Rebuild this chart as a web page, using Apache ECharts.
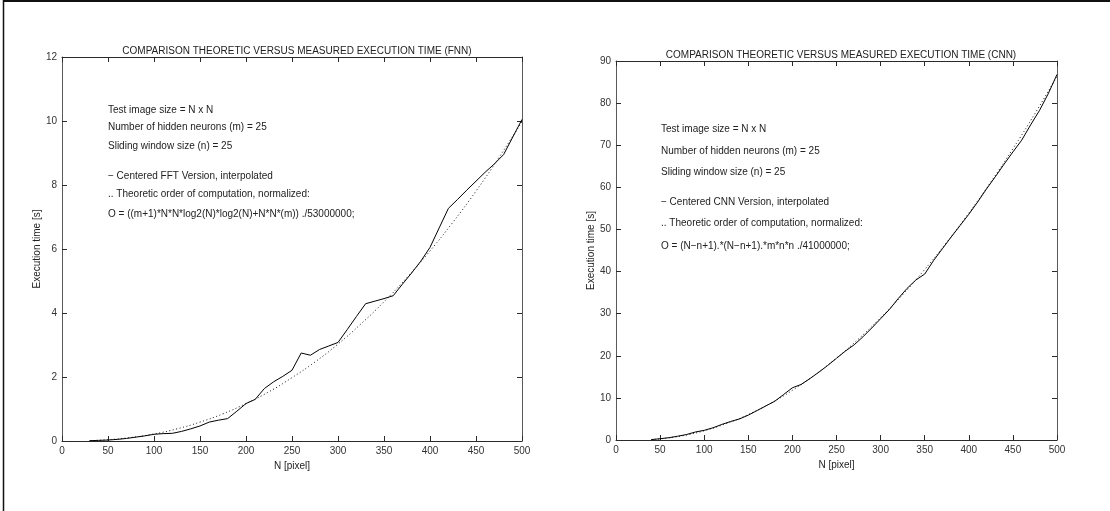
<!DOCTYPE html>
<html>
<head>
<meta charset="utf-8">
<title>Execution time comparison</title>
<script src="https://cdn.jsdelivr.net/npm/echarts@6/dist/echarts.min.js"></script>
<style>
  html, body { margin: 0; padding: 0; background: #fff; }
  #chart { width: 1110px; height: 511px; }
</style>
</head>
<body>
<div id="chart"></div>
<script>
// Tick layout of both panels
const xTicks = [0, 50, 100, 150, 200, 250, 300, 350, 400, 450, 500];
const fnnYTicks = [0, 2, 4, 6, 8, 10, 12];
const cnnYTicks = [0, 10, 20, 30, 40, 50, 60, 70, 80, 90];

// FNN: measured execution time (FFT version, interpolated)
const fnnN = [30, 40, 50, 60, 70, 80, 90, 100, 110, 120, 130, 140, 150, 160, 170, 180, 190, 200,
  210, 220, 230, 240, 250, 260, 270, 280, 290, 300, 310, 320, 330, 340, 350, 360, 370, 380, 390,
  400, 410, 420, 430, 440, 450, 460, 470, 480, 490, 500];
const fnnMeasured = [0.01, 0.02, 0.03, 0.05, 0.08, 0.12, 0.16, 0.21, 0.23, 0.24, 0.30, 0.38, 0.47,
  0.59, 0.65, 0.70, 0.93, 1.17, 1.30, 1.64, 1.85, 2.02, 2.21, 2.75, 2.68, 2.86, 2.97, 3.08, 3.48,
  3.89, 4.29, 4.37, 4.45, 4.54, 4.90, 5.25, 5.62, 6.05, 6.66, 7.27, 7.55, 7.84, 8.12, 8.40, 8.66,
  8.95, 9.50, 10.05];

// FNN: theoretic order of computation, normalized
const fnnTheoryN = [30, 50, 75, 100, 125, 150, 175, 200, 225, 250, 275, 300, 325, 350, 375, 400,
  425, 450, 475, 500];
const fnnTheory = [0.01, 0.04, 0.11, 0.22, 0.38, 0.59, 0.85, 1.17, 1.54, 1.98, 2.47, 3.03, 3.66,
  4.35, 5.11, 5.94, 6.84, 7.81, 8.86, 9.98];

// CNN: measured execution time (CNN version, interpolated)
const cnnN = [40, 50, 60, 70, 80, 90, 100, 110, 120, 130, 140, 150, 160, 170, 180, 190, 200, 210,
  220, 230, 240, 250, 260, 270, 280, 290, 300, 310, 320, 330, 340, 350, 360, 370, 380, 390, 400,
  410, 420, 430, 440, 450, 460, 470, 480, 490, 500];
const cnnMeasured = [0.1, 0.3, 0.55, 0.9, 1.3, 1.9, 2.3, 2.9, 3.7, 4.4, 5.0, 5.9, 7.0, 8.1, 9.2,
  10.8, 12.4, 13.2, 14.6, 16.1, 17.7, 19.4, 21.1, 22.6, 24.5, 26.6, 28.8, 31.0, 33.6, 36.0, 38.0,
  39.4, 42.6, 45.4, 48.2, 50.9, 53.6, 56.5, 59.6, 62.5, 65.5, 68.4, 71.2, 74.8, 78.2, 82.2, 86.8];

// CNN: theoretic order of computation, normalized
const cnnTheoryN = [40, 50, 75, 100, 125, 150, 175, 200, 225, 250, 275, 300, 325, 350, 375, 400,
  425, 450, 475, 500];
const cnnTheory = [0.1, 0.26, 0.99, 2.2, 3.89, 6.05, 8.69, 11.8, 15.4, 19.47, 24.0, 29.03, 34.5,
  40.5, 46.95, 53.88, 61.28, 69.16, 77.52, 86.35];

// Panel texts
const fnnTitle = 'COMPARISON THEORETIC VERSUS MEASURED EXECUTION TIME (FNN)';
const cnnTitle = 'COMPARISON THEORETIC VERSUS MEASURED EXECUTION TIME (CNN)';
const fnnNotes = [
  'Test image size = N x N',
  'Number of hidden neurons (m) = 25',
  'Sliding window size (n) = 25',
  '\u2212 Centered FFT Version, interpolated',
  '.. Theoretic order of computation, normalized:',
  'O = ((m+1)*N*N*log2(N)*log2(N)+N*N*(m)) ./53000000;'
];
const cnnNotes = [
  'Test image size = N x N',
  'Number of hidden neurons (m) = 25',
  'Sliding window size (n) = 25',
  '\u2212 Centered CNN Version, interpolated',
  '.. Theoretic order of computation, normalized:',
  'O = (N\u2212n+1).*(N\u2212n+1).*m*n*n ./41000000;'
];

const FONT = '"Liberation Sans", Arial, Helvetica, sans-serif';
const INK = '#222';
const AXIS_H = '#2a2a2a';   // horizontal box edges
const AXIS_V = '#5a5a5a';   // vertical box edges

const pairs = (xs, ys) => xs.map((x, i) => [x, ys[i]]);

function axisPair(kind, gridIndex, ticks, name, nameGap) {
  const min = ticks[0], max = ticks[ticks.length - 1], interval = ticks[1] - ticks[0];
  const color = kind === 'x' ? AXIS_H : AXIS_V;
  const common = {
    type: 'value', gridIndex, min, max, interval,
    splitLine: { show: false },
    axisLine: { show: true, onZero: false, lineStyle: { color, width: 1 } },
    axisTick: { show: true, inside: true, length: 5, lineStyle: { color: AXIS_H, width: 1 } }
  };
  const main = Object.assign({}, common, {
    position: kind === 'x' ? 'bottom' : 'left',
    name, nameLocation: 'middle', nameGap,
    nameTextStyle: { fontFamily: FONT, fontSize: 10, color: INK },
    axisLabel: { show: true, fontFamily: FONT, fontSize: 10, color: '#333', margin: 5 }
  });
  const mirror = Object.assign({}, common, {
    position: kind === 'x' ? 'top' : 'right',
    axisLabel: { show: false }
  });
  return [main, mirror];
}

function noteGraphics(lines, left, tops) {
  return lines.map((t, i) => ({
    type: 'text', left, top: tops[i],
    style: { text: t, fontFamily: FONT, fontSize: 10, fill: INK }
  }));
}

const solid = { color: '#000', width: 1, type: 'solid' };
const dotted = { color: '#111', width: 1, type: [1, 2.5] };

const chart = echarts.init(document.getElementById('chart'), null, { renderer: 'canvas' });
chart.setOption({
  animation: false,
  backgroundColor: '#fff',
  title: [
    { text: fnnTitle, left: 292, top: 41, textAlign: 'center',
      textStyle: { fontFamily: FONT, fontSize: 10, fontWeight: 'normal', color: INK } },
    { text: cnnTitle, left: 836, top: 45, textAlign: 'center',
      textStyle: { fontFamily: FONT, fontSize: 10, fontWeight: 'normal', color: INK } }
  ],
  grid: [
    { left: 62, right: 588, top: 57, bottom: 70 },
    { left: 616, right: 53, top: 61, bottom: 71 }
  ],
  xAxis: [
    ...axisPair('x', 0, xTicks, 'N [pixel]', 17),
    ...axisPair('x', 1, xTicks, 'N [pixel]', 17)
  ],
  yAxis: [
    ...axisPair('y', 0, fnnYTicks, 'Execution time [s]', 20),
    ...axisPair('y', 1, cnnYTicks, 'Execution time [s]', 20)
  ],
  series: [
    { type: 'line', name: 'FNN measured', xAxisIndex: 0, yAxisIndex: 0,
      data: pairs(fnnN, fnnMeasured), showSymbol: false, lineStyle: solid, silent: true },
    { type: 'line', name: 'FNN theoretic', xAxisIndex: 0, yAxisIndex: 0,
      data: pairs(fnnTheoryN, fnnTheory), showSymbol: false, smooth: true, lineStyle: dotted, silent: true },
    { type: 'line', name: 'CNN measured', xAxisIndex: 2, yAxisIndex: 2,
      data: pairs(cnnN, cnnMeasured), showSymbol: false, lineStyle: solid, silent: true },
    { type: 'line', name: 'CNN theoretic', xAxisIndex: 2, yAxisIndex: 2,
      data: pairs(cnnTheoryN, cnnTheory), showSymbol: false, smooth: true, lineStyle: dotted, silent: true }
  ],
  graphic: [
    // outer frame of the figure (top and left edges)
    { type: 'line', shape: { x1: 3, y1: 1, x2: 1110, y2: 1 }, style: { stroke: '#111', lineWidth: 2 } },
    { type: 'line', shape: { x1: 3.5, y1: 0, x2: 3.5, y2: 511 }, style: { stroke: '#111', lineWidth: 1.5 } },
    ...noteGraphics(fnnNotes, 108, [105, 122, 141, 171, 189, 209]),
    ...noteGraphics(cnnNotes, 661, [124, 146, 167, 197, 218, 241])
  ]
});
</script>
</body>
</html>
